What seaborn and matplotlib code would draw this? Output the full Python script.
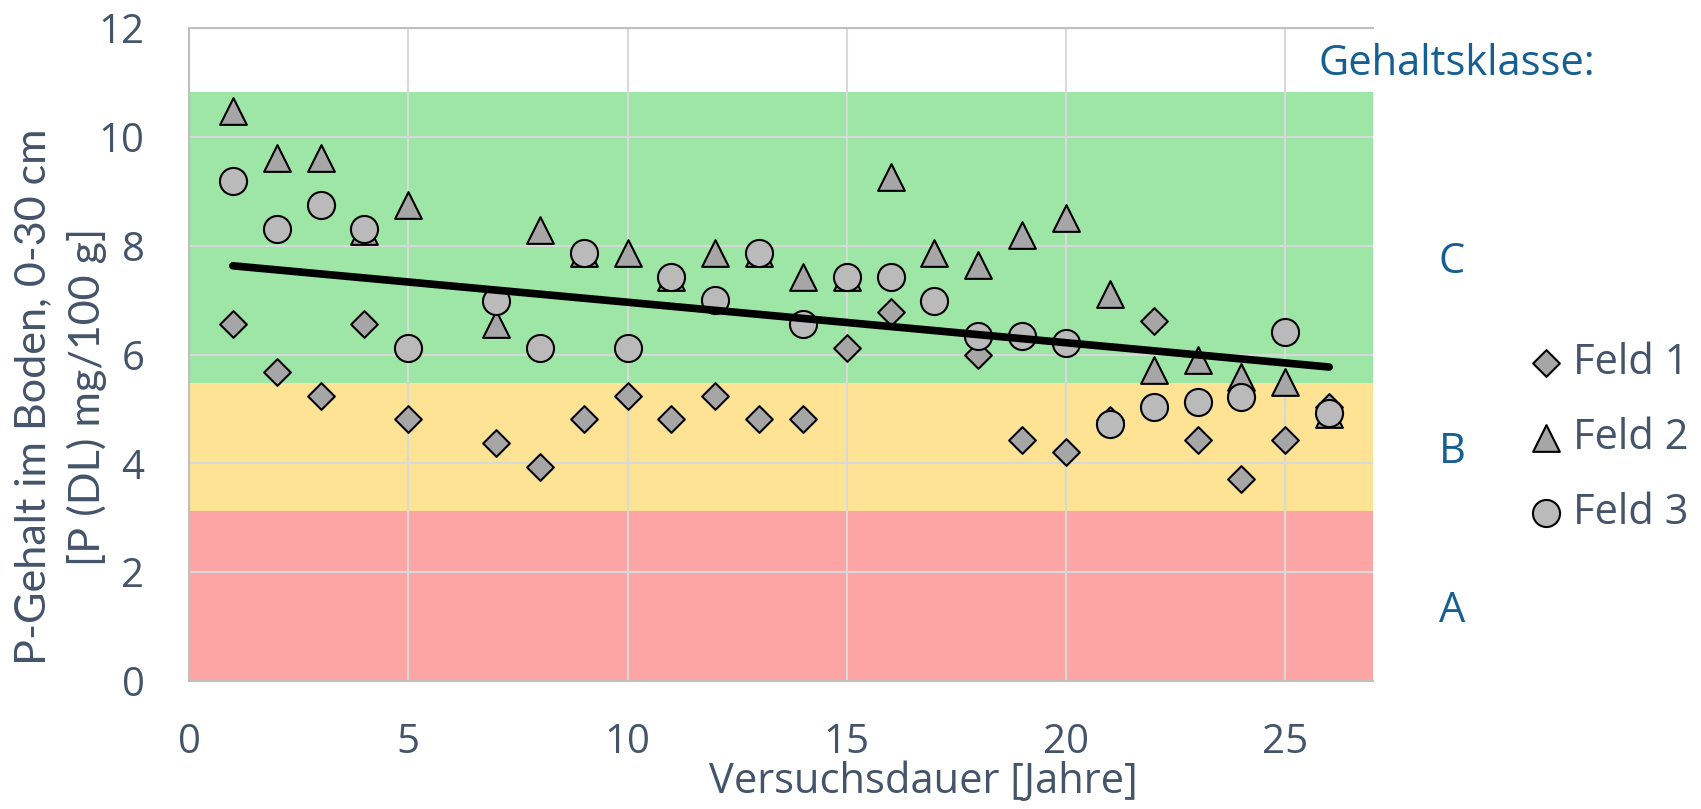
import numpy as np
import pandas as pd
import matplotlib
matplotlib.use("Agg")
import matplotlib.pyplot as plt
import seaborn as sns

# -----------------------------
# Data
# -----------------------------
years = [1, 2, 3, 4, 5, 7, 8, 9, 10, 11, 12, 13, 14, 15, 16, 17, 18, 19, 20, 21, 22, 23, 24, 25, 26]

feld1 = [6.56, 5.68, 5.24, 6.56, 4.81, 4.37, 3.94, 4.81, 5.24, 4.81, 5.24, 4.81, 4.81,
         6.12, 6.78, np.nan, 5.99, 4.42, 4.20, 4.80, 6.61, 4.42, 3.72, 4.42, 5.03]
feld2 = [10.48, 9.61, 9.61, 8.27, 8.74, 6.56, 8.29, 7.86, 7.86, 7.43, 7.86, 7.86, 7.42,
         7.43, 9.27, 7.86, 7.65, 8.20, 8.51, 7.11, 5.72, 5.89, 5.59, 5.50, 4.90]
feld3 = [9.18, 8.30, 8.74, 8.30, 6.12, 6.99, 6.12, 7.86, 6.12, 7.43, 7.00, 7.86, 6.56,
         7.43, 7.42, 6.99, 6.34, 6.34, 6.21, 4.72, 5.03, 5.12, 5.21, 6.42, 4.92]

trend_x = [1, 26]
trend_y = [7.63, 5.77]

class_names = ["A", "B", "C"]
class_lo = [0.0, 3.12, 5.48]
class_hi = [3.12, 5.48, 10.83]

x_ticks = [0, 5, 10, 15, 20, 25]
y_ticks = [0, 2, 4, 6, 8, 10, 12]

ylabel_lines = ["P-Gehalt im Boden, 0-30 cm", "[P (DL) mg/100 g]"]

# -----------------------------
# Style
# -----------------------------
W, H = 1701, 809
BAND_COLORS = ["#FDA5A5", "#FEE394", "#9DE6A5"]
TEXT_GREY = "#44546A"
TEXT_BLUE = "#165F92"
FS = 30


def fx(px):
    return px / W


def fy(px):
    return 1 - px / H


sns.set_theme(style="white")
plt.rcParams["font.family"] = ["Open Sans", "DejaVu Sans"]

fig, ax = plt.subplots(figsize=(W / 100, H / 100), dpi=100)
fig.subplots_adjust(left=fx(189), right=fx(1373), top=fy(28), bottom=fy(681))

# class bands
for lo, hi, col in zip(class_lo, class_hi, BAND_COLORS):
    ax.axhspan(lo, hi, color=col, lw=0, zorder=0.2)

# series, diamonds first so circles sit on top
series = [
    ("Feld 1", feld1, "D", 185, "#A6A6A6"),
    ("Feld 2", feld2, "^", 370, "#A6A6A6"),
    ("Feld 3", feld3, "o", 380, "#BABABA"),
]
for name, vals, mk, size, col in series:
    sns.scatterplot(x=years, y=vals, marker=mk, s=size, color=col,
                    edgecolor="black", linewidth=1.5, ax=ax, label=name, zorder=3)

sns.lineplot(x=trend_x, y=trend_y, color="black", linewidth=5.5, ax=ax,
             zorder=5, legend=False, solid_capstyle="round")

ax.set_xlim(0, 27)
ax.set_ylim(0, 12)
ax.set_xticks(x_ticks)
ax.set_yticks(y_ticks)
ax.set_xlabel("")
ax.set_ylabel("")
ax.tick_params(length=0, labelsize=29, labelcolor=TEXT_GREY)
ax.tick_params(axis="x", pad=30)
ax.tick_params(axis="y", pad=32)
ax.set_axisbelow(True)
ax.grid(True, color="#D9D9D9", linewidth=1.5)
for side in ["left", "bottom", "top"]:
    ax.spines[side].set_color("#BFBFBF")
    ax.spines[side].set_linewidth(1.5)
ax.spines["right"].set_visible(False)

# y title: two rotated lines, baselines at x = 45 and 100 px
renderer = fig.canvas.get_renderer()
ytexts = []
for line, base_x in zip(ylabel_lines, [45, 100]):
    t = fig.text(fx(base_x), fy(397), line, rotation=90, rotation_mode="anchor",
                 ha="center", va="baseline", fontsize=33, color=TEXT_GREY,
                 family=["Lato", "DejaVu Sans"])
    ytexts.append(t)
# match the length of the long line to the reference
span = ytexts[0].get_window_extent(renderer).height
for t in ytexts:
    t.set_fontsize(33 * 538 / span)

fig.text(fx(923), fy(793), "Versuchsdauer [Jahre]",
         ha="center", va="baseline", fontsize=FS, color=TEXT_GREY)

# class labels
fig.text(fx(1457), fy(75), "Gehaltsklasse:", ha="center", va="baseline",
         fontsize=FS, color=TEXT_BLUE)
class_base = [622, 463, 273]
for name, yy in zip(class_names, class_base):
    fig.text(fx(1452), fy(yy), name, ha="center", va="baseline",
             fontsize=FS, color=TEXT_BLUE)

# legend
handles, labels = ax.get_legend_handles_labels()
ax.legend(handles[:3], labels[:3], loc="center left", frameon=False,
          bbox_to_anchor=(fx(1531), fy(438)), bbox_transform=fig.transFigure,
          fontsize=FS, labelcolor=TEXT_GREY, handletextpad=0.3, labelspacing=0.8,
          borderpad=0, borderaxespad=0, handlelength=0.7)

fig.savefig("out.png", dpi=100)
